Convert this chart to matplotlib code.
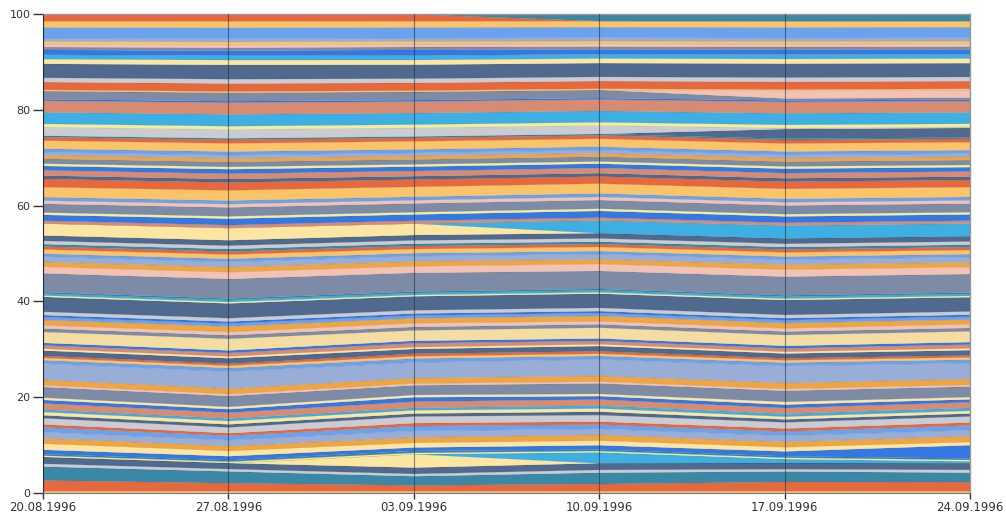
import matplotlib
matplotlib.use("Agg")
import matplotlib.pyplot as plt
import numpy as np

dates = ["20.08.1996", "27.08.1996", "03.09.1996", "10.09.1996", "17.09.1996", "24.09.1996"]

palette = {
    "R": "#E8683E", "O": "#FCC468", "A": "#F0A540", "LB": "#6AA2EE",
    "GB": "#98AED6", "PK": "#F2C2B4", "DB": "#3478E6", "SG": "#7D8BA6",
    "CY": "#3DAFE3", "Y": "#FDE6A2", "W": "#F5DCA0", "DS": "#50698F",
    "LG": "#C9CDD3", "SA": "#D98B72", "TE": "#3B88A6", "YL": "#F4EE9A",
}

# ---- lower band (bottom ~ 0-25 %)
colors_low = ["LG", "O", "R", "TE", "LG", "DS", "Y", "CY", "YL", "TE", "DB", "Y",
              "A", "GB", "LB", "R", "LG", "DS", "Y", "CY", "SA", "DB", "Y", "SG",
              "PK", "A"]
values_low = [
    [0.2, 0.2, 0.2, 0.2, 0.2, 0.2],
    [0.3, 0.3, 0.3, 0.3, 0.3, 0.3],
    [2.2, 1.6, 1.2, 1.5, 1.9, 1.9],
    [2.9, 2.4, 1.9, 2.4, 2.2, 2.0],
    [0.6, 0.5, 0.5, 0.6, 0.5, 0.6],
    [1.4, 1.2, 1.3, 1.4, 1.3, 1.4],
    [0.0, 0.0, 2.8, 0.0, 0.0, 0.0],
    [0.0, 0.0, 0.0, 2.3, 0.8, 0.4],
    [0.3, 0.3, 0.3, 0.3, 0.3, 0.3],
    [0.3, 0.3, 0.4, 0.3, 0.3, 0.3],
    [0.9, 0.8, 0.7, 0.9, 1.0, 2.8],
    [1.3, 1.1, 1.0, 1.0, 0.9, 0.7],
    [1.1, 1.0, 1.1, 1.2, 1.1, 1.2],
    [1.3, 1.2, 1.4, 1.3, 1.3, 1.3],
    [1.0, 0.9, 1.0, 0.9, 0.9, 1.0],
    [0.6, 0.5, 0.6, 0.6, 0.6, 0.6],
    [1.3, 1.2, 1.4, 1.4, 1.3, 1.3],
    [0.6, 0.6, 0.6, 0.7, 0.6, 0.6],
    [0.7, 0.7, 0.7, 0.7, 0.6, 0.6],
    [0.5, 0.5, 0.5, 0.6, 0.6, 0.6],
    [1.3, 1.2, 1.3, 1.3, 1.2, 1.2],
    [0.7, 0.7, 0.9, 0.7, 0.7, 0.6],
    [0.5, 0.5, 0.5, 0.5, 0.6, 0.5],
    [2.2, 2.2, 2.0, 2.2, 2.3, 2.2],
    [0.4, 0.4, 0.4, 0.4, 0.4, 0.4],
    [1.1, 1.1, 1.1, 1.2, 1.2, 1.2],
]

# ---- middle band (~ 25-51 %)
colors_mid = ["GB", "LB", "O", "R", "DS", "Y", "SA", "DB", "W", "SG", "PK", "A",
              "LB", "DB", "LG", "DS", "YL", "CY", "TE", "SG", "PK", "A", "GB",
              "LB", "O"]
values_mid = [
    [3.4, 3.5, 3.3, 3.5, 3.6, 3.4],
    [0.7, 0.7, 0.8, 0.7, 0.7, 0.7],
    [0.5, 0.5, 0.5, 0.5, 0.5, 0.5],
    [0.4, 0.4, 0.5, 0.5, 0.4, 0.4],
    [1.1, 1.1, 1.0, 1.1, 1.0, 1.1],
    [0.4, 0.4, 0.4, 0.4, 0.4, 0.4],
    [0.7, 0.7, 0.8, 0.7, 0.7, 0.8],
    [0.5, 0.5, 0.5, 0.5, 0.5, 0.5],
    [2.3, 2.4, 2.2, 2.3, 2.3, 2.3],
    [0.7, 0.7, 0.7, 0.7, 0.7, 0.7],
    [0.7, 0.7, 0.8, 0.7, 0.7, 0.8],
    [1.1, 1.1, 1.0, 1.1, 1.1, 1.0],
    [0.6, 0.6, 0.6, 0.6, 0.6, 0.6],
    [0.4, 0.4, 0.4, 0.4, 0.4, 0.4],
    [0.7, 0.7, 0.7, 0.7, 0.7, 0.7],
    [3.1, 3.0, 2.9, 3.0, 3.1, 3.0],
    [0.3, 0.3, 0.3, 0.3, 0.3, 0.3],
    [0.4, 0.4, 0.4, 0.4, 0.4, 0.4],
    [0.3, 0.3, 0.3, 0.3, 0.3, 0.3],
    [3.9, 4.0, 3.9, 3.8, 3.9, 3.9],
    [1.4, 1.4, 1.4, 1.5, 1.5, 1.5],
    [1.0, 1.0, 1.0, 1.0, 1.0, 1.0],
    [1.1, 1.1, 1.1, 1.1, 1.1, 1.1],
    [0.6, 0.6, 0.6, 0.6, 0.6, 0.6],
    [0.9, 0.9, 0.9, 0.9, 0.9, 0.9],
]

# ---- upper-middle band (~ 51-74 %)
colors_upmid = ["R", "TE", "LG", "DS", "Y", "CY", "SA", "DB", "YL", "SG", "PK",
                "LB", "O", "R", "DS", "SA", "DB", "YL", "SG", "A", "GB", "LB",
                "O", "R", "TE"]
values_upmid = [
    [0.6, 0.6, 0.6, 0.6, 0.6, 0.6],
    [0.5, 0.5, 0.5, 0.5, 0.5, 0.5],
    [0.7, 0.7, 0.7, 0.7, 0.7, 0.7],
    [1.1, 1.1, 1.1, 1.1, 1.1, 1.1],
    [2.5, 2.5, 2.4, 0.0, 0.0, 0.0],
    [0.0, 0.0, 0.0, 2.7, 2.7, 2.7],
    [0.6, 0.6, 0.6, 0.6, 0.6, 0.6],
    [1.2, 1.3, 1.3, 1.4, 1.3, 1.3],
    [0.5, 0.5, 0.5, 0.5, 0.5, 0.5],
    [1.8, 1.8, 1.8, 1.8, 1.8, 1.8],
    [0.7, 0.7, 0.7, 0.7, 0.7, 0.7],
    [0.7, 0.7, 0.7, 0.7, 0.7, 0.7],
    [2.1, 2.1, 2.1, 2.1, 2.1, 2.1],
    [1.7, 1.6, 1.5, 1.5, 1.5, 1.5],
    [0.7, 0.7, 0.7, 0.7, 0.7, 0.7],
    [1.1, 1.1, 1.1, 1.1, 1.1, 1.1],
    [0.9, 0.9, 0.9, 0.9, 0.9, 0.9],
    [0.5, 0.5, 0.5, 0.5, 0.5, 0.5],
    [1.0, 1.0, 1.0, 1.0, 1.0, 1.0],
    [0.7, 0.7, 0.7, 0.7, 0.7, 0.7],
    [0.7, 0.7, 0.7, 0.7, 0.7, 0.7],
    [0.7, 0.7, 0.7, 0.7, 0.7, 0.7],
    [1.7, 1.7, 1.7, 1.7, 1.7, 1.7],
    [0.7, 0.7, 0.7, 0.7, 0.7, 0.7],
    [0.3, 0.3, 0.3, 0.3, 0.3, 0.3],
]

# ---- top band (~ 74-100 %)
colors_top = ["DS", "LG", "YL", "CY", "SA", "DB", "SG", "PK", "O", "R", "LG",
              "DS", "Y", "CY", "DB", "SG", "PK", "O", "GB", "LB", "O", "R", "TE"]
values_top = [
    [0.0, 0.0, 0.0, 0.0, 2.0, 2.0],
    [1.8, 1.8, 1.8, 1.8, 0.2, 0.2],
    [0.7, 0.7, 0.7, 0.7, 0.7, 0.7],
    [2.4, 2.4, 2.4, 2.4, 2.4, 2.4],
    [2.4, 2.4, 2.4, 2.4, 2.4, 2.4],
    [0.3, 0.3, 0.3, 0.3, 0.3, 0.3],
    [1.7, 1.7, 1.7, 1.7, 0.4, 0.4],
    [0.0, 0.0, 0.0, 0.0, 1.6, 1.6],
    [0.3, 0.3, 0.3, 0.3, 0.3, 0.3],
    [1.6, 1.6, 1.6, 1.6, 1.6, 1.6],
    [0.9, 0.9, 0.9, 0.9, 0.9, 0.9],
    [2.9, 2.9, 2.9, 2.9, 2.9, 2.9],
    [1.0, 1.0, 1.0, 1.0, 1.0, 1.0],
    [0.9, 0.9, 0.9, 0.9, 0.9, 0.9],
    [1.0, 1.0, 1.2, 1.0, 1.0, 1.0],
    [0.6, 0.6, 0.6, 0.6, 0.6, 0.6],
    [0.6, 0.6, 0.6, 0.6, 0.6, 0.6],
    [0.6, 0.6, 0.6, 0.6, 0.6, 0.6],
    [0.7, 0.7, 0.7, 0.7, 0.7, 0.7],
    [2.2, 2.2, 2.2, 2.2, 2.2, 2.2],
    [1.3, 1.3, 1.3, 1.3, 1.3, 1.3],
    [1.4, 1.4, 1.4, 0.0, 0.0, 0.0],
    [0.0, 0.0, 0.0, 1.4, 1.4, 1.4],
]

y_ticks = [0, 20, 40, 60, 80, 100]

# ---------------------------------------------------------------
series_colors = colors_low + colors_mid + colors_upmid + colors_top
series_values = np.array(values_low + values_mid + values_upmid + values_top, dtype=float)
pct = series_values / series_values.sum(axis=0, keepdims=True) * 100.0

fig = plt.figure(figsize=(10.06, 5.16), dpi=100)
ax = fig.add_axes([43 / 1006, 23 / 516, (970 - 43) / 1006, (493 - 14) / 516])

x = np.arange(len(dates))
ax.stackplot(x, pct, colors=[palette[c] for c in series_colors],
             edgecolor=(0, 0, 0, 0.12), linewidth=0.3)

for xi in x:
    ax.axvline(xi, color="#1E2A40", alpha=0.55, lw=0.8, zorder=3)

ax.set_xlim(0, len(dates) - 1)
ax.set_ylim(0, 100)
ax.set_xticks(x)
ax.set_xticklabels(dates)
ax.set_yticks(y_ticks)
ax.set_yticklabels([str(v) for v in y_ticks])
ax.tick_params(axis="x", labelsize=8.5, colors="#333333", length=4.5, width=1, pad=1.5)
ax.tick_params(axis="y", labelsize=8, colors="#333333", length=7, width=1, pad=2)
for side in ["top", "right"]:
    ax.spines[side].set_color("#999999")
    ax.spines[side].set_linewidth(1)
ax.spines["left"].set_color("#333333")
ax.spines["bottom"].set_color("#777777")

fig.savefig("out.png", dpi=100)
